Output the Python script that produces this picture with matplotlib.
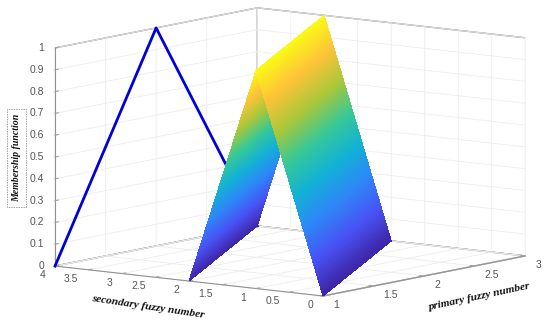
import numpy as np
import matplotlib
matplotlib.use('Agg')
from matplotlib import pyplot as plt
from matplotlib.colors import LinearSegmentedColormap
from mpl_toolkits.mplot3d import proj3d

# values
primary_edge = [1, 3]
secondary_front_foot = [0, 2]
secondary_peak = [1, 3]
secondary_back_foot = [2, 4]
line_primary = [1, 2, 3]
line_secondary = [4, 4, 4]
line_membership = [0, 1, 0]
primary_ticks = [1, 1.5, 2, 2.5, 3]
secondary_ticks = [0, 0.5, 1, 1.5, 2, 2.5, 3, 3.5, 4]
membership_ticks = [0, 0.1, 0.2, 0.3, 0.4, 0.5, 0.6, 0.7, 0.8, 0.9, 1]
parula_colors = ['#3e26a8', '#4852f4', '#2d87f7', '#12b1d6', '#37c897', '#abc739', '#fec338', '#f9fb15']

parula = LinearSegmentedColormap.from_list('parula', parula_colors)
W, H = 550, 327

def slope(foot, peak):
    # one side of the tent, split in rows only to fake matlab's interp shading
    shade = np.linspace(0, 1, 220)
    X = np.tile(primary_edge, (len(shade), 1)).astype(float)
    Y = np.outer(1 - shade, foot) + np.outer(shade, peak)
    Z = np.tile(shade[:, None], (1, 2))
    return X, Y, Z

def tick_label(x, y, z, text, dx, dy, ha):
    # dx, dy in pixels from the tick, y down
    a, b, _ = proj3d.proj_transform(x, y, z, ax.get_proj())
    ax.annotate(text, (a, b), xytext=(dx * 0.72, -dy * 0.72), textcoords='offset points',
                family='Liberation Sans', fontsize=7.5, color='#555555', ha=ha, va='center', zorder=5)

fig = plt.figure(figsize=(W / 100, H / 100), dpi=100)
side = 508.5
ax = fig.add_axes([29 / W, -86.05 / H, side / W, side / H], projection='3d', computed_zorder=False)
ax.set_proj_type('ortho')
ax.view_init(elev=8.56, azim=-143.1)
ax.set_box_aspect((1, 0.995, 0.655))
ax.patch.set_alpha(0)

ax.plot(line_primary, line_secondary, line_membership, color='#0000d8', lw=2, zorder=1)
for foot, order in ((secondary_back_foot, 2), (secondary_front_foot, 3)):
    X, Y, Z = slope(foot, secondary_peak)
    ax.plot_surface(X, Y, Z, facecolors=parula(Z[:-1, :-1]), rstride=1, cstride=1,
                    shade=False, antialiased=False, linewidth=0, zorder=order)

ax.set_xlim(1, 3)
ax.set_ylim(0, 4)
ax.set_zlim(0, 1)
ax.set_xticks(primary_ticks)
ax.set_yticks(secondary_ticks)
ax.set_zticks(membership_ticks)
ax.set_xticklabels([])
ax.set_yticklabels([])
ax.set_zticklabels([])

for axis in (ax.xaxis, ax.yaxis, ax.zaxis):
    axis.set_pane_color((1, 1, 1, 1))
    axis.pane.set_edgecolor('#909090')
    axis.line.set_color('#909090')
    axis._axinfo['grid'].update(color='#ececec', linewidth=0.6)
    axis._axinfo['tick'].update(inward_factor=0, outward_factor=0.2)
ax.tick_params(color='#a0a0a0')

# native labels sit too far off here, so place them next to the ticks by hand
for v in primary_ticks:
    tick_label(v, 0, 0, f'{v:g}', 10, 9, 'left')
for v in secondary_ticks:
    tick_label(1, v, 0, f'{v:g}', -10, 9, 'right')
for v in membership_ticks:
    tick_label(1, 4, v, f'{v:g}', -11, 0, 'right')

label_style = dict(family='Liberation Serif', weight='bold', style='italic',
                   ha='center', va='center', color='#111111', rotation_mode='anchor')
fig.text(16.5 / W, 1 - 158 / H, 'Membership function', rotation=90, fontsize=7.1,
         bbox=dict(boxstyle='square,pad=0.5', fc='white', ec='#777777', ls=(0, (2, 1.5)), lw=0.5), **label_style)
fig.text(148 / W, 1 - 307 / H, 'secondary fuzzy number', rotation=-8.5, fontsize=8.2, **label_style)
fig.text(480 / W, 1 - 297 / H, 'primary fuzzy number', rotation=12, fontsize=8.2, **label_style)
fig.savefig('out.png', dpi=100)
